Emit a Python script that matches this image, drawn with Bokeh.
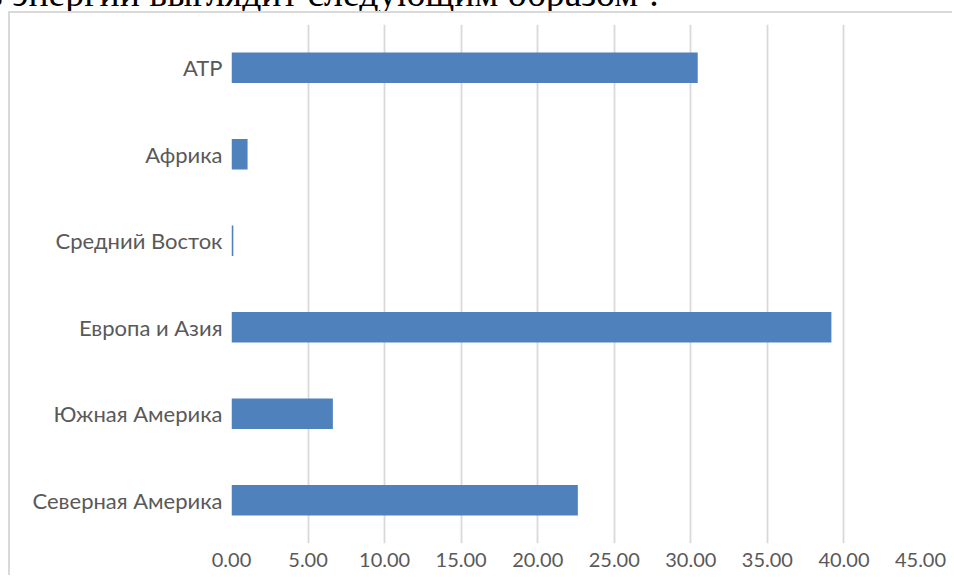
from bokeh.plotting import figure
from bokeh.models import (FixedTicker, NumeralTickFormatter, Div,
                          ColumnDataSource, Range1d, FactorRange)
from bokeh.layouts import column
from bokeh.embed import file_html
from bokeh.resources import INLINE

regions = ["Северная Америка", "Южная Америка", "Европа и Азия",
           "Средний Восток", "Африка", "АТР"]
values = [22.62, 6.62, 39.18, 0.12, 1.05, 30.45]
x_ticks = [0, 5, 10, 15, 20, 25, 30, 35, 40, 45]
caption = "в энергии выглядит следующим образом¹."

# caption line (cut at the top like in the scanned page)
cap = Div(text=('<div style="position:relative; top:-26px; left:-15px; white-space:nowrap; '
                'font-family:\'Liberation Serif\'; font-size:37.7px; line-height:38px; '
                'color:black;">' + caption + '</div>'),
          width=954, height=11, margin=(0, 0, 0, 0), styles={"overflow": "hidden"})

FW, FH = 944, 564
p = figure(width=FW, height=FH, output_backend="svg", toolbar_location=None,
           y_range=FactorRange(factors=regions, range_padding=0),
           x_range=Range1d(0, 45),
           min_border_left=221, min_border_right=34,
           min_border_top=11, min_border_bottom=34,
           margin=(0, 0, 0, 8),
           styles={"border-left": "2px solid #d9d9d9", "border-top": "2px solid #d9d9d9"})
p.outline_line_color = None

src = ColumnDataSource(dict(y=regions, v=values))
p.hbar(y="y", right="v", left=0, height=0.355, source=src,
       fill_color="#4f81bd", line_color=None)

p.xaxis.ticker = FixedTicker(ticks=x_ticks)
p.xaxis.formatter = NumeralTickFormatter(format="0.00")
p.xaxis.axis_line_color = None
p.xaxis.major_tick_line_color = None
p.xaxis.minor_tick_line_color = None
p.xaxis.major_label_text_font = "Lato"
p.xaxis.major_label_text_font_size = "20px"
p.xaxis.major_label_text_color = "#595959"
p.xaxis.major_label_standoff = 3

p.yaxis.axis_line_color = None
p.yaxis.major_tick_line_color = None
p.yaxis.minor_tick_line_color = None
p.yaxis.major_label_text_font = "Lato"
p.yaxis.major_label_text_font_size = "22px"
p.yaxis.major_label_text_color = "#595959"
p.yaxis.major_label_standoff = 3

p.xgrid.grid_line_color = "#d9d9d9"
p.xgrid.grid_line_width = 1.8
p.ygrid.grid_line_color = None

layout = column(cap, p, spacing=0)
open("out.html", "w").write(file_html(layout, INLINE))
